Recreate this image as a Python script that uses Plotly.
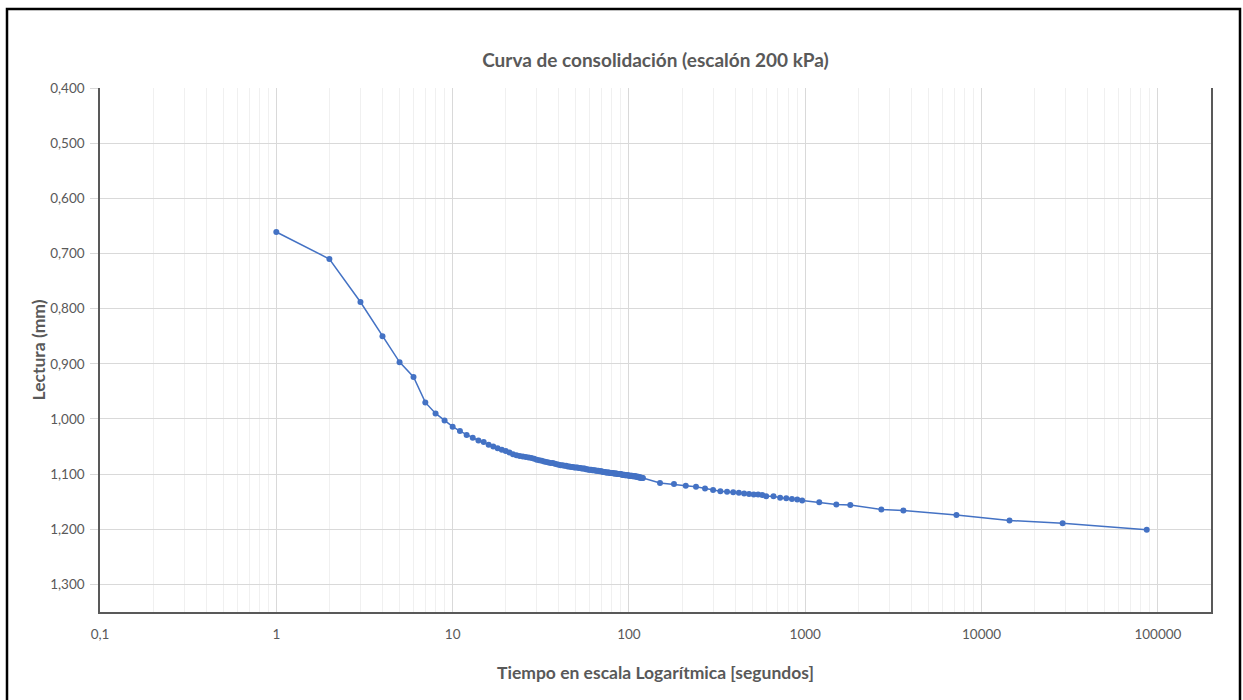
import plotly.graph_objects as go

# --- data ---
tiempo_s = list(range(1, 121)) + [150, 180, 210, 240, 270, 300, 330, 360, 390, 420, 450, 480,
                                   510, 540, 570, 600, 660, 720, 780, 840, 900, 960,
                                   1200, 1500, 1800, 2700, 3600, 7200, 14400, 28800, 86400]

lectura_mm = [
    0.661, 0.710, 0.788, 0.850, 0.897, 0.924, 0.970, 0.990, 1.003, 1.014,
    1.022, 1.029, 1.034, 1.039, 1.042, 1.047, 1.050, 1.053, 1.056, 1.058,
    1.061, 1.064, 1.066, 1.067, 1.068, 1.069, 1.070, 1.071, 1.072, 1.074,
    1.075, 1.076, 1.077, 1.078, 1.079, 1.080, 1.080, 1.081, 1.082, 1.083,
    1.084, 1.084, 1.085, 1.085, 1.086, 1.086, 1.087, 1.087, 1.088, 1.088,
    1.088, 1.089, 1.089, 1.090, 1.090, 1.090, 1.091, 1.091, 1.092, 1.092,
    1.092, 1.093, 1.093, 1.093, 1.094, 1.094, 1.094, 1.095, 1.095, 1.095,
    1.096, 1.096, 1.096, 1.097, 1.097, 1.097, 1.097, 1.098, 1.098, 1.098,
    1.098, 1.099, 1.099, 1.099, 1.099, 1.100, 1.100, 1.100, 1.100, 1.100,
    1.101, 1.101, 1.101, 1.101, 1.102, 1.102, 1.102, 1.102, 1.102, 1.103,
    1.103, 1.103, 1.103, 1.103, 1.104, 1.104, 1.104, 1.104, 1.104, 1.105,
    1.105, 1.105, 1.105, 1.106, 1.106, 1.106, 1.106, 1.107, 1.107, 1.107,
    1.116, 1.118, 1.121, 1.123, 1.126, 1.129, 1.131, 1.132, 1.133, 1.134,
    1.135, 1.136, 1.137, 1.137, 1.138, 1.140, 1.140, 1.143, 1.144, 1.145,
    1.146, 1.148, 1.151, 1.155, 1.156, 1.164, 1.166, 1.174, 1.184, 1.189,
    1.201,
]

x_tickvals = [0.1, 1, 10, 100, 1000, 10000, 100000]
x_ticktext = ["0,1", "1", "10", "100", "1000", "10000", "100000"]
y_tickvals = [0.4, 0.5, 0.6, 0.7, 0.8, 0.9, 1.0, 1.1, 1.2, 1.3]

titulo = "Curva de consolidación (escalón 200 kPa)"
titulo_x = "Tiempo en escala Logarítmica [segundos]"
titulo_y = "Lectura (mm)"

minor_vals = [m * d for d in x_tickvals for m in range(2, 10) if m * d < 200000]

FONT = "Lato"
GRAY = "#595959"

fig = go.Figure()
fig.add_trace(go.Scatter(
    x=tiempo_s, y=lectura_mm, mode="lines+markers",
    line=dict(color="#4472C4", width=1.5),
    marker=dict(color="#4472C4", size=6),
    showlegend=False,
))

W, H = 1243, 700
ml, mr, mt, mb = 100, 32, 88, 88
pw, ph = W - ml - mr, H - mt - mb

def px_x(p):
    return (p - ml) / pw

def px_y(p):
    return (H - mb - p) / ph

fig.add_shape(type="rect", xref="paper", yref="paper",
              x0=px_x(7), x1=px_x(1240), y0=px_y(709), y1=px_y(9),
              line=dict(color="black", width=2.5), layer="above")

fig.update_layout(
    width=W, height=H,
    margin=dict(l=ml, r=mr, t=mt, b=mb),
    paper_bgcolor="white", plot_bgcolor="white",
    separators=",.",
    font=dict(family=FONT, color=GRAY, size=13.5),
    title=dict(text="<b>" + titulo + "</b>", x=0.5, xref="paper", xanchor="center",
               y=1 - 60 / H, yanchor="middle",
               font=dict(family=FONT, size=19, color=GRAY)),
    xaxis=dict(
        type="log", range=[-1, 5.301],
        tickmode="array", tickvals=x_tickvals, ticktext=x_ticktext,
        showgrid=True, gridcolor="#d9d9d9", gridwidth=1,
        minor=dict(tickmode="array", tickvals=minor_vals, showgrid=True,
                   gridcolor="#f0f0f0", gridwidth=1, ticks=""),
        showline=True, linecolor=GRAY, linewidth=1.5,
        ticks="", ticklabelstandoff=9,
        tickfont=dict(family=FONT, size=13.5, color=GRAY),
        title=dict(text="<b>" + titulo_x + "</b>", standoff=26,
                   font=dict(family=FONT, size=17.5, color=GRAY)),
        zeroline=False,
    ),
    yaxis=dict(
        range=[1.35, 0.4],
        tickmode="array", tickvals=y_tickvals, tickformat=".3f",
        showgrid=True, gridcolor="#d9d9d9", gridwidth=1,
        showline=True, linecolor=GRAY, linewidth=1.5, mirror=True,
        ticks="outside", ticklen=8, tickcolor="#d9d9d9",
        ticklabelstandoff=3,
        tickfont=dict(family=FONT, size=13.5, color=GRAY),
        title=dict(text="<b>" + titulo_y + "</b>", standoff=0,
                   font=dict(family=FONT, size=17.5, color=GRAY)),
        zeroline=False,
    ),
)

fig.write_html("out.html")
